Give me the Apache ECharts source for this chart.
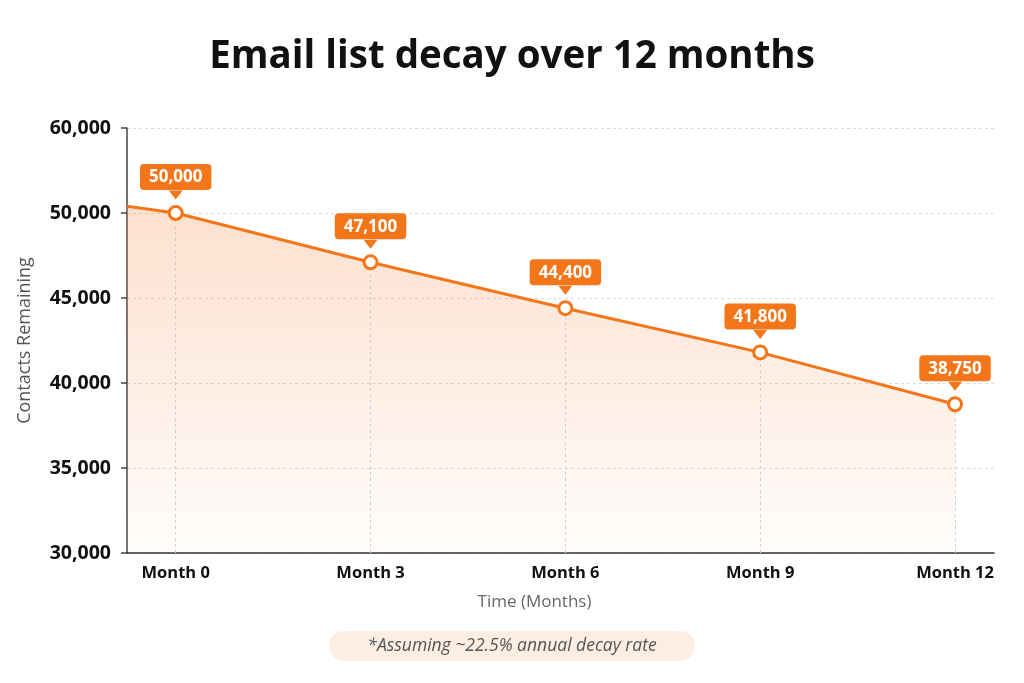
<!DOCTYPE html>
<html>
<head>
<meta charset="utf-8">
<script src="https://cdn.jsdelivr.net/npm/echarts@6/dist/echarts.min.js"></script>
<style>
html,body{margin:0;padding:0;background:#fff;}
#chart{width:1024px;height:683px;}
</style>
</head>
<body>
<div id="chart"></div>
<script>
// ---- data ----
const months = [0, 3, 6, 9, 12];
const monthLabels = ['Month 0', 'Month 3', 'Month 6', 'Month 9', 'Month 12'];
const contacts = [50000, 47100, 44400, 41800, 38750];
const leadIn = [-0.75, 50400];           // where the line enters from the y-axis
const yTickValues = [30000, 35000, 40000, 45000, 50000, 55000];
const yTickLabels = ['30,000', '35,000', '40,000', '45,000', '50,000', '60,000'];
const titleText = 'Email list decay over 12 months';
const footnote = '*Assuming ~22.5% annual decay rate';

const ORANGE = '#f4761a';
const FONT = 'Open Sans';

const linePts = [leadIn].concat(months.map((m, i) => [m, contacts[i]]));
const pts = months.map((m, i) => [m, contacts[i]]);

const chart = echarts.init(document.getElementById('chart'));
chart.setOption({
  backgroundColor: '#ffffff',
  animation: false,
  title: [{
    text: titleText,
    left: 'center',
    top: 33,
    textStyle: { fontFamily: FONT, fontSize: 38.5, fontWeight: 'bold', color: '#111' }
  }],
  grid: { left: 127, right: 30, top: 128, bottom: 130 },
  xAxis: {
    type: 'value',
    min: -0.75,
    max: 12.6,
    name: 'Time (Months)',
    nameLocation: 'middle',
    nameGap: 41,
    nameTextStyle: { fontFamily: FONT, fontSize: 17, color: '#666', padding: [0, 52, 0, 0] },
    axisLine: { show: true, onZero: false, lineStyle: { color: '#333', width: 1.5 } },
    axisTick: { show: false },
    splitLine: { show: false },
    axisLabel: {
      customValues: months,
      margin: 12,
      fontFamily: FONT, fontSize: 16.5, fontWeight: 'bold', color: '#111',
      formatter: v => monthLabels[months.indexOf(v)]
    }
  },
  yAxis: {
    type: 'value',
    min: 30000,
    max: 55000,
    interval: 5000,
    name: 'Contacts Remaining',
    nameLocation: 'middle',
    nameRotate: 90,
    nameGap: 93,
    nameTextStyle: { fontFamily: FONT, fontSize: 18, color: '#555' },
    axisLine: { show: true, onZero: false, lineStyle: { color: '#444', width: 1.5 } },
    axisTick: { show: true, length: 6, lineStyle: { color: '#444', width: 1.5 } },
    splitLine: { show: true, lineStyle: { color: '#dcdcdc', type: [3, 3], width: 1 } },
    axisLabel: {
      margin: 16,
      fontFamily: FONT, fontSize: 19.5, fontWeight: 'bold', color: '#111',
      formatter: v => yTickLabels[yTickValues.indexOf(v)]
    }
  },
  series: [
    {
      type: 'line',
      data: linePts,
      showSymbol: false,
      symbol: 'none',
      lineStyle: { color: ORANGE, width: 3 },
      areaStyle: {
        color: new echarts.graphic.LinearGradient(0, 0, 0, 1, [
          { offset: 0, color: 'rgba(247,140,70,0.38)' },
          { offset: 1, color: 'rgba(247,140,70,0.03)' }
        ])
      },
      z: 2,
      markLine: {
        silent: true,
        symbol: 'none',
        label: { show: false },
        lineStyle: { color: '#cfcfcf', type: [3, 3], width: 1 },
        data: pts.map(p => [{ coord: [p[0], 30000] }, { coord: [p[0], p[1]] }])
      }
    },
    {
      type: 'scatter',
      data: pts,
      symbol: 'triangle',
      symbolRotate: 180,
      symbolSize: [14, 9],
      symbolOffset: [0, -18],
      itemStyle: { color: ORANGE, opacity: 1 },
      z: 4
    },
    {
      type: 'scatter',
      data: pts,
      symbol: 'circle',
      symbolSize: 13,
      itemStyle: { color: '#fff', borderColor: ORANGE, borderWidth: 3, opacity: 1 },
      label: {
        show: true,
        position: 'top',
        distance: 15,
        formatter: p => p.value[1].toLocaleString('en-US'),
        fontFamily: FONT, fontSize: 17, fontWeight: 'bold', color: '#fff',
        backgroundColor: ORANGE,
        borderRadius: 4,
        padding: [5, 9, 4, 9]
      },
      z: 5
    }
  ],
  graphic: [
    {
      type: 'group',
      left: 'center',
      top: 631,
      children: [
        { type: 'rect', shape: { x: 0, y: 0, width: 366, height: 30, r: 15 }, style: { fill: '#fdeee4' } },
        { type: 'text', x: 183, y: 15, style: { text: footnote, fontFamily: FONT, fontStyle: 'italic', fontSize: 17.5, fill: '#555', align: 'center', verticalAlign: 'middle' } }
      ]
    }
  ]
});
</script>
</body>
</html>
